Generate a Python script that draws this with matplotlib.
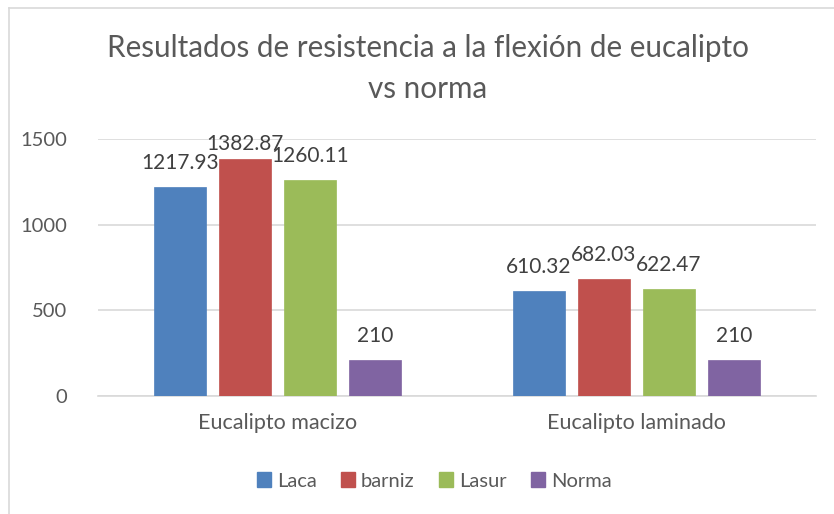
import matplotlib
matplotlib.use("Agg")
import matplotlib.pyplot as plt
import numpy as np
from matplotlib.lines import Line2D

categories = ["Eucalipto macizo", "Eucalipto laminado"]
series_names = ["Laca", "barniz", "Lasur", "Norma"]
laca = [1217.93, 610.32]
barniz = [1382.87, 682.03]
lasur = [1260.11, 622.47]
norma = [210, 210]
labels_laca = ["1217.93", "610.32"]
labels_barniz = ["1382.87", "682.03"]
labels_lasur = ["1260.11", "622.47"]
labels_norma = ["210", "210"]
yticks = [0, 500, 1000, 1500]

colors = ["#4F81BD", "#C0504D", "#9BBB59", "#8064A2"]
values = [laca, barniz, lasur, norma]
labels = [labels_laca, labels_barniz, labels_lasur, labels_norma]

plt.rcParams['font.family'] = ['Lato', 'DejaVu Sans']

W, H = 834, 514
fig = plt.figure(figsize=(W/100, H/100), dpi=100)
ax = fig.add_axes([98/W, 1-396/H, (816-98)/W, (396-139)/H])

x = np.arange(len(categories))
step = 0.181
width = 0.145
label_gap = 105      # data units between bar top and label baseline
label_cap = 1436     # labels cannot go above this baseline
for i, (vals, col, labs) in enumerate(zip(values, colors, labels)):
    off = (i - 1.5) * step
    bars = ax.bar(x + off, vals, width, color=col, edgecolor=col, linewidth=0.5, zorder=3, label=series_names[i])
    for b, lab in zip(bars, labs):
        ax.text(b.get_x() + b.get_width()/2, min(b.get_height() + label_gap, label_cap), lab,
                ha='center', va='baseline', fontsize=15, color='#404040', zorder=4)

ax.set_xlim(-0.5, 1.5)
ax.set_ylim(0, 1500)
ax.set_yticks(yticks)
ax.set_yticklabels([str(t) for t in yticks], fontsize=14.5, color='#595959')
ax.set_xticks(x)
ax.set_xticklabels(categories, fontsize=15.5, color='#595959')
ax.tick_params(axis='both', length=0)
ax.tick_params(axis='y', pad=22)
ax.tick_params(axis='x', pad=12)
ax.grid(axis='y', color='#D9D9D9', linewidth=1.2, zorder=0)
for s in ['top', 'right', 'left']:
    ax.spines[s].set_visible(False)
ax.spines['bottom'].set_color('#D9D9D9')
ax.spines['bottom'].set_linewidth(1.2)
ax.set_axisbelow(True)

fig.text(428/W, 1-48/H, "Resultados de resistencia a la flexión de eucalipto", ha='center', va='center',
         fontsize=21.3, color='#595959')
fig.text(428/W, 1-89/H, "vs norma", ha='center', va='center', fontsize=21.3, color='#595959')

handles = [plt.Rectangle((0, 0), 1, 1, color=c) for c in colors]
leg = fig.legend(handles, series_names, loc='center', bbox_to_anchor=(434/W, 1-481/H), ncol=4,
                 frameon=False, fontsize=14.5, handlelength=0.7, handleheight=0.7, handletextpad=0.3,
                 columnspacing=1.2, labelcolor='#595959')

# chart border
fig.add_artist(Line2D([9/W, 9/W], [0, 1-8/H], transform=fig.transFigure, color='#D9D9D9', linewidth=1.2))
fig.add_artist(Line2D([9/W, 1], [1-8/H, 1-8/H], transform=fig.transFigure, color='#D9D9D9', linewidth=1.2))

fig.savefig("out.png", dpi=100)
